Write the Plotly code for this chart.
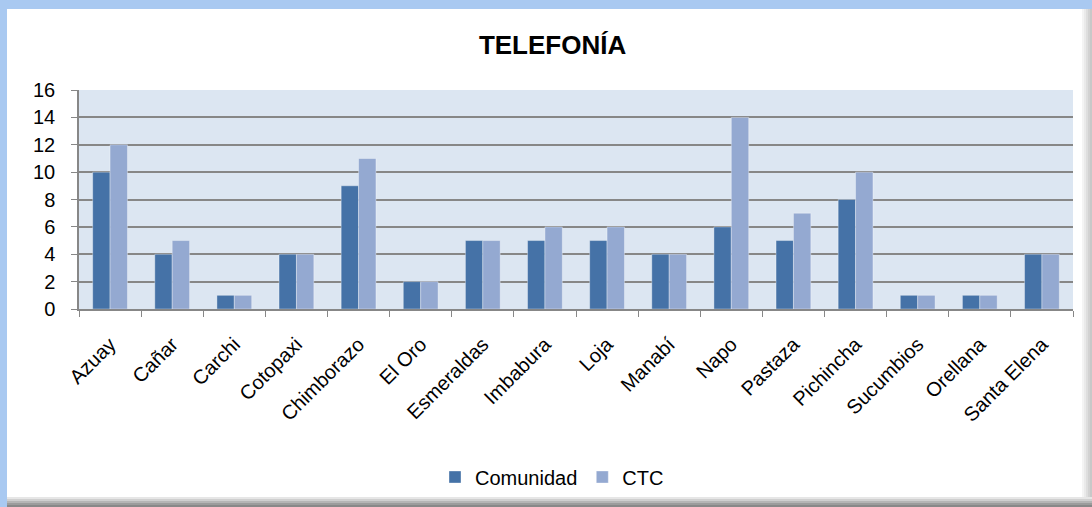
import plotly.graph_objects as go

provincias = ["Azuay", "Cañar", "Carchi", "Cotopaxi", "Chimborazo", "El Oro", "Esmeraldas",
              "Imbabura", "Loja", "Manabí", "Napo", "Pastaza", "Pichincha", "Sucumbios",
              "Orellana", "Santa Elena"]
comunidad = [10, 4, 1, 4, 9, 2, 5, 5, 5, 4, 6, 5, 8, 1, 1, 4]
ctc = [12, 5, 1, 4, 11, 2, 5, 6, 6, 4, 14, 7, 10, 1, 1, 4]

W, H = 1092, 507
L, R, T, B = 79, 1073, 90, 309

fig = go.Figure()
fig.add_bar(name="Comunidad", x=provincias, y=comunidad, marker_color="#4572A7",
            marker_line=dict(color="rgba(255,255,255,0.35)", width=1))
fig.add_bar(name="CTC", x=provincias, y=ctc, marker_color="#94A9D1",
            marker_line=dict(color="rgba(255,255,255,0.35)", width=1))

def px_x(p):
    return (p - L) / (R - L)

def px_y(p):
    return (B - p) / (B - T)

shapes = []
# top and left blue frame
shapes.append(dict(type="rect", xref="paper", yref="paper", x0=px_x(0), x1=px_x(W),
                   y0=px_y(9), y1=px_y(0), fillcolor="#A9C9F1", line_width=0, layer="below"))
shapes.append(dict(type="rect", xref="paper", yref="paper", x0=px_x(0), x1=px_x(7),
                   y0=px_y(H), y1=px_y(0), fillcolor="#A9C9F1", line_width=0, layer="below"))
# bottom shadow gradient
greys = ["#E6E6E6", "#CFCFCF", "#B5B5B5", "#9C9C9C", "#888888"]
for i, g in enumerate(greys):
    y0 = 497 + i * 2
    shapes.append(dict(type="rect", xref="paper", yref="paper", x0=px_x(7), x1=px_x(W),
                       y0=px_y(y0 + 2), y1=px_y(y0), fillcolor=g, line_width=0, layer="below"))
# right shadow gradient
rgreys = ["#F4F4F4", "#EAEAEA", "#DEDEDE", "#D2D2D2", "#C8C8C8"]
for i, g in enumerate(rgreys):
    x0 = 1082 + i * 2
    shapes.append(dict(type="rect", xref="paper", yref="paper", x0=px_x(x0), x1=px_x(x0 + 2),
                       y0=px_y(497), y1=px_y(9), fillcolor=g, line_width=0, layer="below"))

fig.update_layout(
    width=W, height=H,
    margin=dict(l=L, r=W - R, t=T, b=H - B, autoexpand=False),
    paper_bgcolor="white",
    plot_bgcolor="#DCE6F2",
    font=dict(family="Liberation Sans, Arial, sans-serif", size=20, color="#000000"),
    title=dict(text="<b>TELEFONÍA</b>", x=0.506, xref="container", y=1 - 45 / H,
               yref="container", xanchor="center", yanchor="middle",
               font=dict(size=26, color="#000000")),
    barmode="group",
    bargap=0.44,
    bargroupgap=0,
    showlegend=True,
    legend=dict(orientation="h", x=px_x(552), xanchor="center", y=px_y(477), yanchor="middle",
                font=dict(size=20), itemwidth=30, traceorder="normal", bgcolor="rgba(0,0,0,0)"),
    shapes=shapes,
)
fig.update_yaxes(range=[0, 16], dtick=2, showgrid=True, gridcolor="#878787", gridwidth=1.5,
                 showline=True, linecolor="#878787", linewidth=1.5, ticks="outside",
                 ticklen=6, tickcolor="#878787", zeroline=False, tickfont=dict(size=20),
                 ticklabelstandoff=12, fixedrange=True)
fig.update_xaxes(showline=True, linecolor="#878787", linewidth=1.5, ticks="outside",
                 tickson="boundaries", ticklen=6, tickcolor="#878787", tickangle=-45,
                 tickfont=dict(size=20), ticklabelstandoff=14, showgrid=False)

fig.write_html("out.html", config={"displayModeBar": False},
               post_script="document.body.style.margin='0';document.body.style.overflow='hidden';")
